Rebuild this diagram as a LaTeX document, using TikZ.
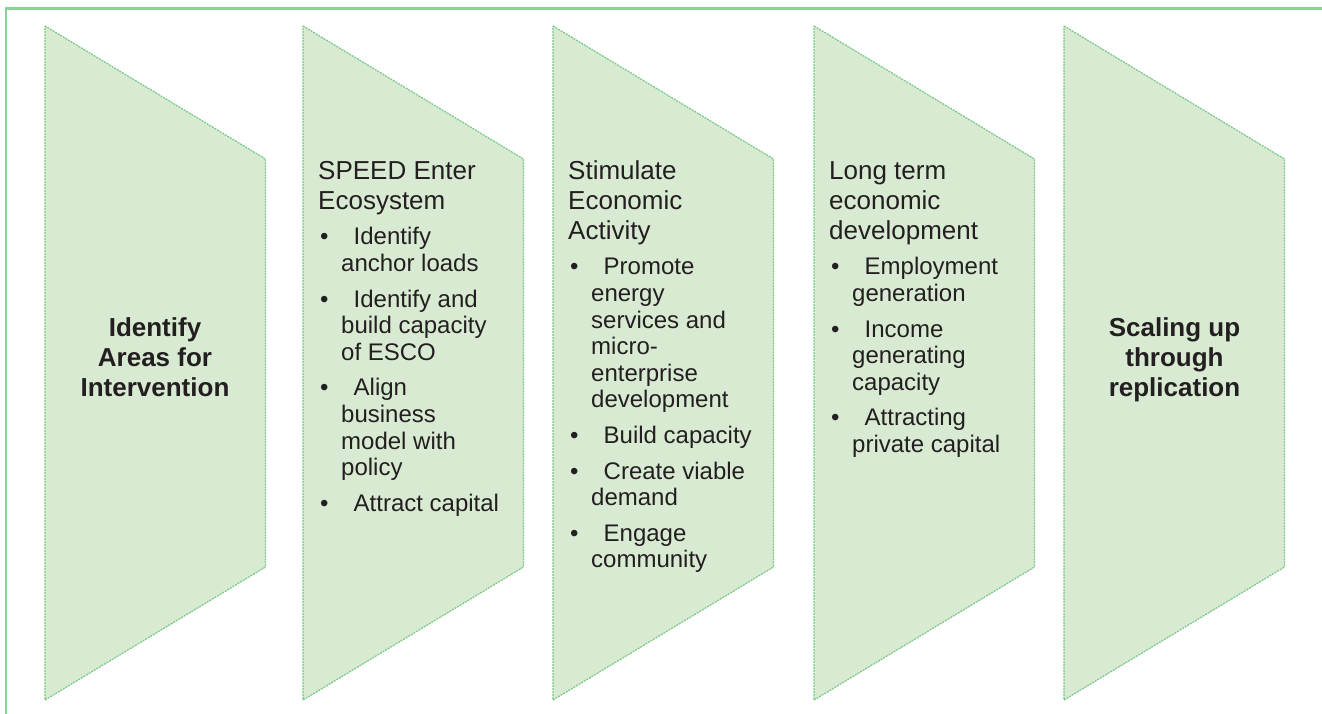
\documentclass[tikz,border=0pt]{standalone}
\usepackage{fontspec}
\setmainfont{Liberation Sans}

\definecolor{stagefill}{RGB}{217,234,211}
\definecolor{stageedge}{RGB}{120,200,134}
\definecolor{framegreen}{RGB}{140,210,152}
\definecolor{ink}{RGB}{35,31,32}

% type sizes: stage headings and bullet lines
\newcommand{\headfont}{\fontsize{26}{30}\selectfont}
\newcommand{\itemfont}{\fontsize{24}{26.6}\selectfont}
% heading of a stage
\newcommand{\stephead}[1]{{\headfont #1\par}}
% bullet with hanging continuation lines (use \newline inside)
\newcommand{\stepitem}[1]{\par\vspace{9pt}\hangindent=23pt\hangafter=1
  \noindent\makebox[35.5pt][l]{\hspace{2pt}\textbullet}#1\par}

\begin{document}
\begin{tikzpicture}[x=1pt,y=-1pt,
  stage/.style={fill=stagefill, draw=stageedge, line width=1.2pt,
                dash pattern=on 2pt off 1pt},
  steptext/.style={anchor=base west, inner sep=0pt, text=ink},
  keytext/.style={anchor=base, inner sep=0pt, text=ink}]

\useasboundingbox (0,0) rectangle (1322,714);

% outer frame (top and left edges)
\draw[framegreen, line width=2.8pt] (6,714) -- (6,8.7) -- (1322,8.7);

% the five stage chevrons
\foreach \L in {45,303,553,814,1064}
  \path[stage] (\L,26) -- (\L+220.5,159) -- (\L+220.5,567) -- (\L,700) -- cycle;

% stage 1
\node[keytext] (t1) at (155,336)
  {\parbox[t]{210pt}{\centering\bfseries\headfont Identify\\Areas for\\Intervention\par}};

% stage 2
\node[steptext] (t2) at (318,179.3) {\parbox[t]{205pt}{\itemfont
  \stephead{SPEED Enter\\Ecosystem}%
  \stepitem{Identify\newline anchor loads}%
  \stepitem{Identify and\newline build capacity\newline of ESCO}%
  \stepitem{Align\newline business\newline model with\newline policy}%
  \stepitem{Attract capital}}};

% stage 3
\node[steptext] (t3) at (568,179.3) {\parbox[t]{205pt}{\itemfont
  \stephead{Stimulate\\Economic\\Activity}%
  \stepitem{Promote\newline energy\newline services and\newline micro-\newline enterprise\newline development}%
  \stepitem{Build capacity}%
  \stepitem{Create viable\newline demand}%
  \stepitem{Engage\newline community}}};

% stage 4
\node[steptext] (t4) at (829,179.3) {\parbox[t]{205pt}{\itemfont
  \stephead{Long term\\economic\\development}%
  \stepitem{Employment\newline generation}%
  \stepitem{Income\newline generating\newline capacity}%
  \stepitem{Attracting\newline private capital}}};

% stage 5
\node[keytext] (t5) at (1174.5,336)
  {\parbox[t]{210pt}{\centering\bfseries\headfont Scaling up\\through\\replication\par}};

\end{tikzpicture}
\end{document}
